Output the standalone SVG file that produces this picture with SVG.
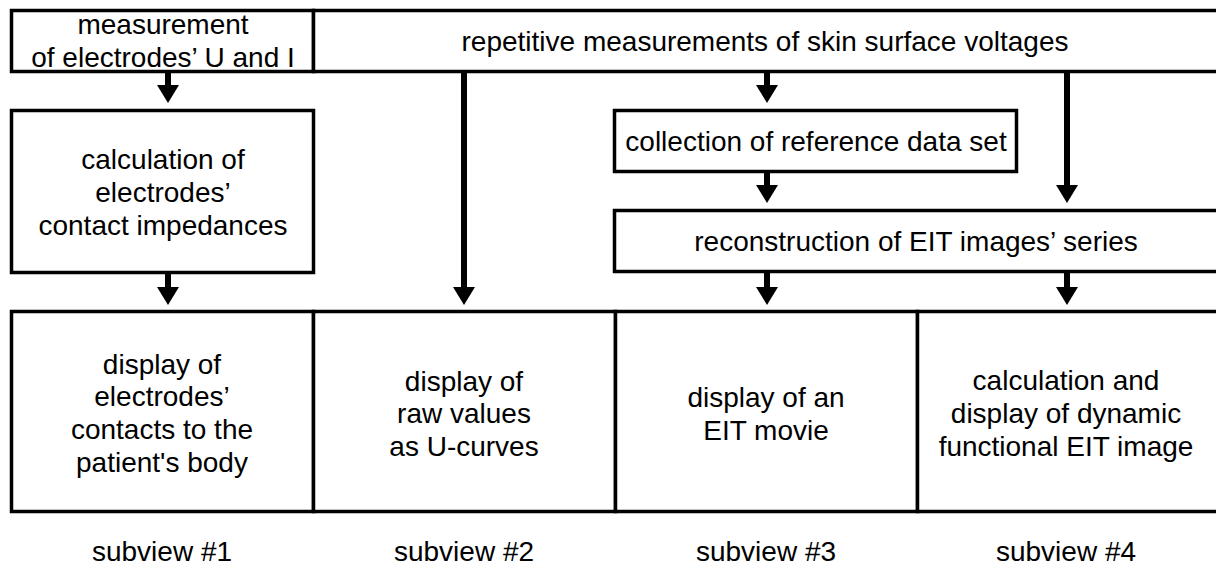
<svg xmlns="http://www.w3.org/2000/svg" width="1216" height="570" viewBox="0 0 1216 570">
  <style>
    .box { fill: #fff; stroke: #000; stroke-width: 3.5; }
    .lbl { font-family: "Liberation Sans", Arial, sans-serif; font-size: 28px; fill: #000; text-anchor: middle; }
    .conn { stroke: #000; stroke-width: 6; fill: none; marker-end: url(#head); }
  </style>
  <defs>
    <marker id="head" viewBox="0 0 18 22" refX="0" refY="11" markerWidth="18" markerHeight="22" markerUnits="userSpaceOnUse" orient="auto">
      <path d="M0,0 L18,11 L0,22 z" fill="#000"/>
    </marker>
  </defs>
  <rect width="1216" height="570" fill="#fff"/>

  <!-- measurement row -->
  <g id="measure-ui">
    <rect class="box" x="11.5" y="10.5" width="302" height="61"/>
    <text class="lbl" x="163" y="34">measurement</text>
    <text class="lbl" x="163" y="67">of electrodes’ U and I</text>
  </g>
  <g id="measure-voltages">
    <rect class="box" x="313.5" y="10.5" width="910" height="61"/>
    <text class="lbl" x="765" y="51">repetitive measurements of skin surface voltages</text>
  </g>

  <!-- processing steps -->
  <g id="calc-impedances">
    <rect class="box" x="11.5" y="110.5" width="302" height="162"/>
    <text class="lbl" x="163" y="169">calculation of</text>
    <text class="lbl" x="163" y="202">electrodes’</text>
    <text class="lbl" x="163" y="235">contact impedances</text>
  </g>
  <g id="reference-set">
    <rect class="box" x="614.5" y="110.5" width="402" height="61"/>
    <text class="lbl" x="816" y="151">collection of reference data set</text>
  </g>
  <g id="reconstruction">
    <rect class="box" x="614.5" y="210.5" width="610" height="61"/>
    <text class="lbl" x="916" y="251">reconstruction of EIT images’ series</text>
  </g>

  <!-- subviews -->
  <g id="subview1">
    <rect class="box" x="11.5" y="311.5" width="302" height="200"/>
    <text class="lbl" x="162" y="374">display of</text>
    <text class="lbl" x="162" y="406">electrodes’</text>
    <text class="lbl" x="162" y="439">contacts to the</text>
    <text class="lbl" x="162" y="472">patient's body</text>
    <text class="lbl" x="162" y="561">subview #1</text>
  </g>
  <g id="subview2">
    <rect class="box" x="313.5" y="311.5" width="302" height="200"/>
    <text class="lbl" x="464" y="391">display of</text>
    <text class="lbl" x="464" y="423">raw values</text>
    <text class="lbl" x="464" y="456">as U-curves</text>
    <text class="lbl" x="464" y="561">subview #2</text>
  </g>
  <g id="subview3">
    <rect class="box" x="615.5" y="311.5" width="302" height="200"/>
    <text class="lbl" x="766" y="407">display of an</text>
    <text class="lbl" x="766" y="440">EIT movie</text>
    <text class="lbl" x="766" y="561">subview #3</text>
  </g>
  <g id="subview4">
    <rect class="box" x="917.5" y="311.5" width="310" height="200"/>
    <text class="lbl" x="1066" y="390">calculation and</text>
    <text class="lbl" x="1066" y="423">display of dynamic</text>
    <text class="lbl" x="1066" y="456">functional EIT image</text>
    <text class="lbl" x="1066" y="561">subview #4</text>
  </g>

  <!-- connectors -->
  <g id="connectors">
    <line class="conn" x1="168" y1="72" x2="168" y2="85"/>
    <line class="conn" x1="464" y1="72" x2="464" y2="287"/>
    <line class="conn" x1="767" y1="72" x2="767" y2="85"/>
    <line class="conn" x1="1067" y1="72" x2="1067" y2="185"/>
    <line class="conn" x1="767" y1="172" x2="767" y2="185"/>
    <line class="conn" x1="168" y1="273" x2="168" y2="287"/>
    <line class="conn" x1="767" y1="272" x2="767" y2="287"/>
    <line class="conn" x1="1067" y1="272" x2="1067" y2="287"/>
  </g>
</svg>
